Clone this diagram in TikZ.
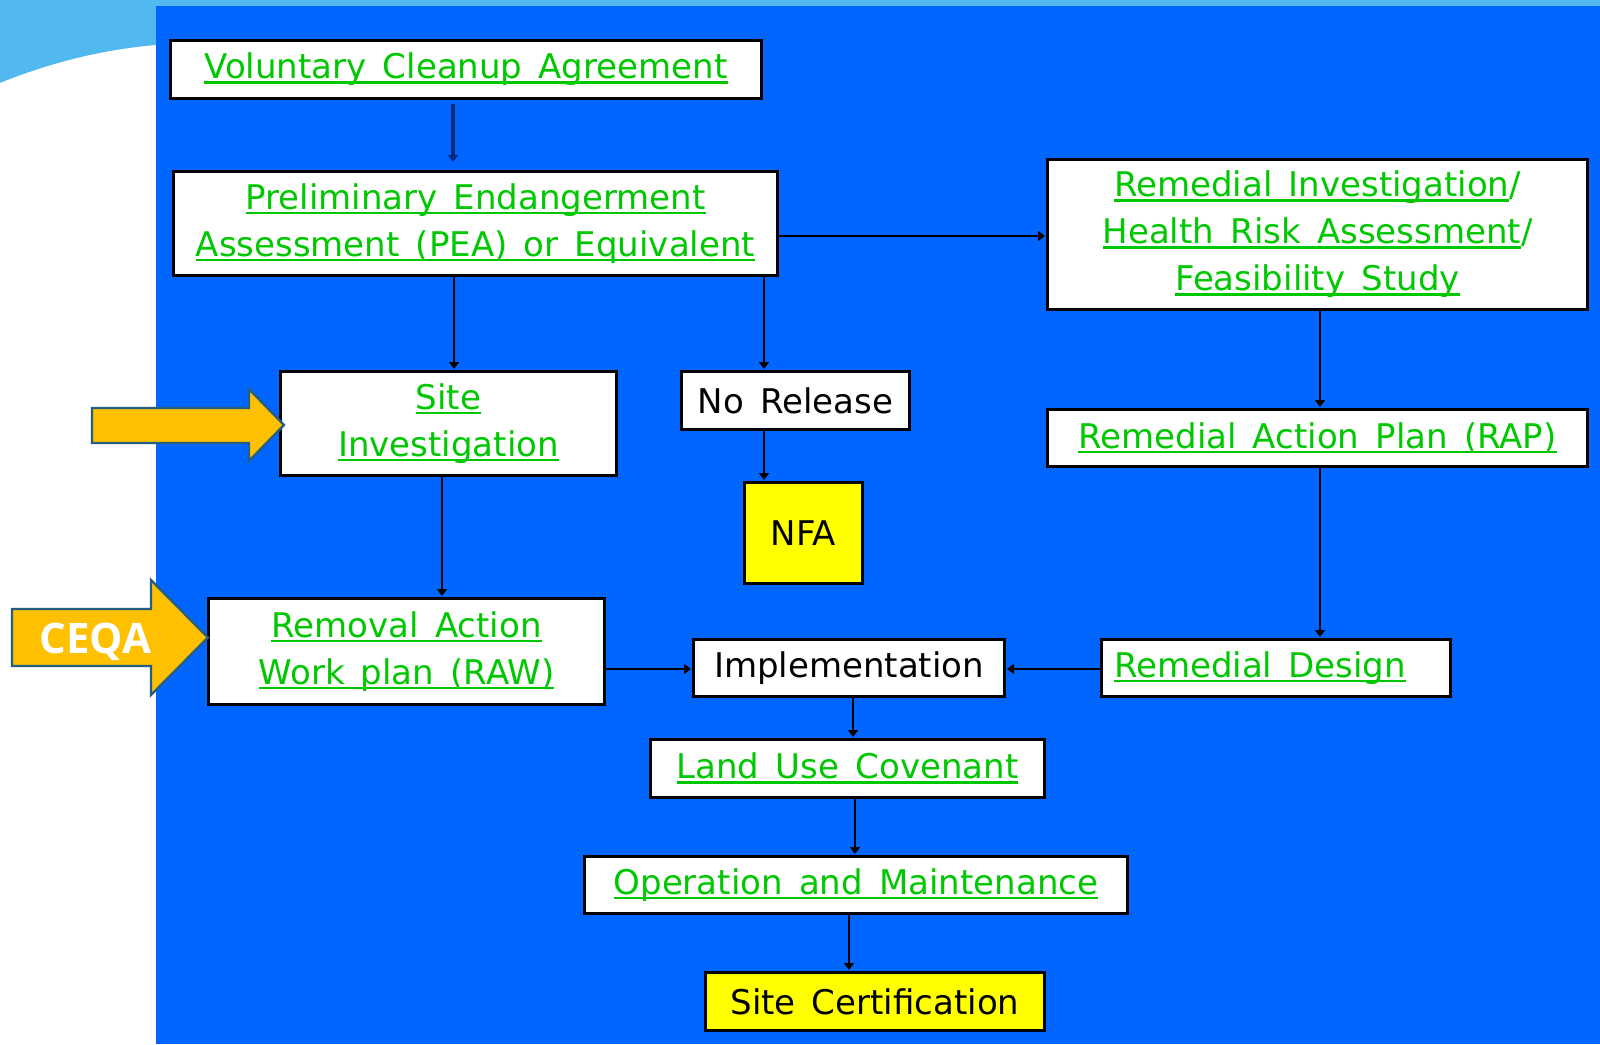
\documentclass[tikz,border=0pt]{standalone}
\usepackage{fontspec}
\setmainfont{DejaVu Sans}[WordSpace=1.5]
\newfontfamily\ceqafont{Open Sans}
\usetikzlibrary{arrows.meta}
\definecolor{bgblue}{RGB}{0,102,255}
\definecolor{skyblue}{RGB}{82,184,240}
\definecolor{lnk}{RGB}{0,200,0}
\definecolor{arrfill}{RGB}{255,192,0}
\definecolor{arredge}{RGB}{38,95,130}
\definecolor{navyline}{RGB}{0,40,130}
\definecolor{yel}{RGB}{255,255,0}
\newcommand\lk[1]{\setbox0=\hbox{\color{lnk}#1}\rlap{\color{lnk}\rule[-2.5pt]{\wd0}{1.3pt}}\box0}
\tikzset{
  box/.style={draw=black, line width=1.5pt, fill=white, inner sep=0pt, align=center,
    font=\fontsize{17pt}{23.5pt}\selectfont},
  ybox/.style={box, fill=yel},
  conn/.style={draw=black, line width=1.2pt, -{Triangle[length=3.5pt,width=5pt]}, shorten >=0.5pt},
  bigarrow/.style={fill=arrfill, draw=arredge, line width=1.2pt, line join=miter}
}
\begin{document}
\begin{tikzpicture}[x=0.5pt,y=-0.5pt]
\useasboundingbox (0,0) rectangle (1600,1044);
% background
\fill[skyblue] (0,0) rectangle (1600,1044);
\fill[white] (0,83) .. controls (50,63) and (100,50) .. (156,45) -- (156,1044) -- (0,1044) -- cycle;
\fill[bgblue] (156,6) rectangle (1600,1044);

% boxes
\node[box, minimum width=295.5pt, minimum height=29pt] (vca) at (466,69.5) {\lk{Voluntary Cleanup Agreement}};
\node[box, minimum width=302pt, minimum height=52pt] (pea) at (475.5,223.5) {\lk{Preliminary Endangerment}\\\lk{Assessment (PEA) or Equivalent}};
\node[box, minimum width=270pt, minimum height=75pt] (ri) at (1317.5,234.5) {\lk{Remedial Investigation}/\\\lk{Health Risk Assessment}/\\\lk{Feasibility Study}};
\node[box, minimum width=168pt, minimum height=52pt] (si) at (448.5,423.5) {\lk{Site}\\\lk{Investigation}};
\node[box, minimum width=114pt, minimum height=29pt] (nr) at (795.5,400.5) {No Release};
\node[ybox, minimum width=59pt, minimum height=50.5pt] (nfa) at (803.5,533) {NFA};
\node[box, minimum width=270pt, minimum height=28.5pt] (rap) at (1317.5,438) {\lk{Remedial Action Plan (RAP)}};
\node[box, minimum width=198pt, minimum height=53pt] (raw) at (406.5,651.5) {\lk{Removal Action}\\\lk{Work plan (RAW)}};
\node[box, minimum width=155.5pt, minimum height=28.5pt] (impl) at (849,668) {Implementation};
\node[box, minimum width=174.5pt, minimum height=28.5pt] (rd) at (1276,668) {\hspace*{-16pt}\lk{Remedial Design}};
\node[box, minimum width=197pt, minimum height=29pt] (luc) at (847.5,768.5) {\lk{Land Use Covenant}};
\node[box, minimum width=271.5pt, minimum height=28.5pt] (om) at (856,885) {\lk{Operation and Maintenance}};
\node[ybox, minimum width=169.5pt, minimum height=29pt] (sc) at (875,1001.5) {Site Certification};

% connectors
\draw[conn, draw=navyline, line width=2pt, shorten <=2pt, shorten >=4pt] ([xshift=-6.5pt]vca.south) -- ([xshift=-11.25pt]pea.north);
\draw[conn] ([yshift=-6.25pt]pea.east) -- ([yshift=-0.75pt]ri.west);
\draw[conn] ([xshift=-10.75pt]pea.south) -- ([xshift=2.75pt]si.north);
\draw[conn] ([xshift=144.25pt]pea.south) -- ([xshift=-15.75pt]nr.north);
\draw[conn] ([xshift=-15.75pt]nr.south) -- ([xshift=-19.75pt]nfa.north);
\draw[conn] ([xshift=1.25pt]ri.south) -- ([xshift=1.25pt]rap.north);
\draw[conn] ([xshift=-3.25pt]si.south) -- ([xshift=17.75pt]raw.north);
\draw[conn] ([xshift=1.25pt]rap.south) -- ([xshift=22pt]rd.north);
\draw[conn] ([yshift=-8.75pt]raw.east) -- ([yshift=-0.5pt]impl.west);
\draw[conn] ([yshift=-0.5pt]rd.west) -- ([yshift=-0.5pt]impl.east);
\draw[conn] ([xshift=2pt]impl.south) -- ([xshift=2.75pt]luc.north);
\draw[conn] ([xshift=3.75pt]luc.south) -- ([xshift=-0.5pt]om.north);
\draw[conn] ([xshift=-3.5pt]om.south) -- ([xshift=-13pt]sc.north);

% orange block arrows
\draw[bigarrow] (92,408) -- (249,408) -- (249,389) -- (284,425) -- (249,461) -- (249,443) -- (92,443) -- cycle;
\draw[bigarrow] (12,609) -- (151,609) -- (151,580) -- (208,637.5) -- (151,695) -- (151,666) -- (12,666) -- cycle;
\node[anchor=base, text=white, inner sep=0pt, font=\ceqafont\bfseries\fontsize{21pt}{25pt}\selectfont] (ceqa) at (95.5,653) {CEQA};
\end{tikzpicture}
\end{document}
